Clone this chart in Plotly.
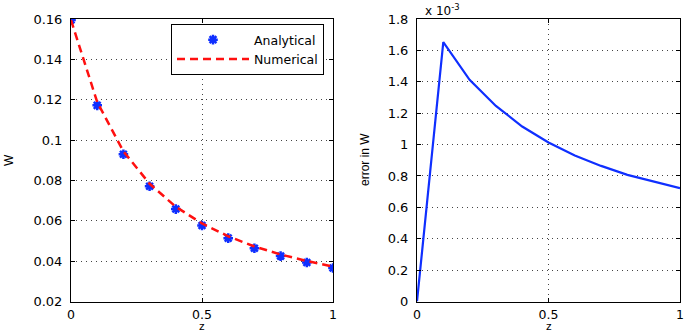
import plotly.graph_objects as go

# ---- data ----
z = [0.0, 0.1, 0.2, 0.3, 0.4, 0.5, 0.6, 0.7, 0.8, 0.9, 1.0]
analytical_W = [0.1595, 0.1172, 0.0930, 0.0771, 0.0658, 0.0577, 0.0514, 0.0464, 0.0425, 0.0393, 0.0366]
numerical_W = [0.1595, 0.11885, 0.09441, 0.07835, 0.06692, 0.05871, 0.05233, 0.04726, 0.04331, 0.04007, 0.03732]
error_W_e3 = [0.0, 1.652, 1.412, 1.246, 1.115, 1.013, 0.930, 0.864, 0.807, 0.765, 0.722]

left_yticks = [0.02, 0.04, 0.06, 0.08, 0.1, 0.12, 0.14, 0.16]
left_yticklabels = ["0.02", "0.04", "0.06", "0.08", "0.1", "0.12", "0.14", "0.16"]
right_yticks = [0, 0.2, 0.4, 0.6, 0.8, 1.0, 1.2, 1.4, 1.6, 1.8]
right_yticklabels = ["0", "0.2", "0.4", "0.6", "0.8", "1", "1.2", "1.4", "1.6", "1.8"]
xticks = [0, 0.5, 1]
xticklabels = ["0", "0.5", "1"]

W, H = 685, 332
BLUE = "#0f2fff"
RED = "#ff1010"
TICKFONT = dict(family="DejaVu Sans", size=13, color="black")
XTICKFONT = dict(family="DejaVu Sans", size=12.5, color="black")

fig = go.Figure()
fig.add_trace(go.Scatter(
    x=z, y=analytical_W, mode="markers", name="Analytical",
    marker=dict(symbol="asterisk-open", size=8, color=BLUE,
                line=dict(color=BLUE, width=2.5)),
    xaxis="x", yaxis="y"))
fig.add_trace(go.Scatter(
    x=z, y=numerical_W, mode="lines", name="Numerical",
    line=dict(color=RED, width=2.5, dash="8px,5px"),
    xaxis="x", yaxis="y"))
fig.add_trace(go.Scatter(
    x=z, y=error_W_e3, mode="lines", name="error", showlegend=False,
    line=dict(color=BLUE, width=2.2),
    xaxis="x2", yaxis="y2"))

def px_x(p):
    return p / W

def px_y(p):
    return 1 - p / H

ydom = [px_y(301.5), px_y(19)]
common = dict(showgrid=True, gridcolor="#444444", gridwidth=1, griddash="1px,4px",
              zeroline=False, showline=True, linecolor="black", linewidth=1,
              mirror="ticks", ticks="inside", ticklen=4, tickcolor="black",
              automargin=False)

fig.update_layout(
    width=W, height=H, autosize=False,
    margin=dict(l=0, r=0, t=0, b=0, autoexpand=False),
    paper_bgcolor="white", plot_bgcolor="white",
    xaxis=dict(domain=[px_x(71), px_x(333)], range=[0, 1], anchor="y",
               tickvals=xticks, ticktext=xticklabels, ticklabelstandoff=1,
               tickfont=XTICKFONT, **common),
    yaxis=dict(domain=ydom, range=[0.02, 0.16], anchor="x",
               tickvals=left_yticks, ticktext=left_yticklabels, ticklabelstandoff=5,
               tickfont=TICKFONT, **common),
    xaxis2=dict(domain=[px_x(417), px_x(680)], range=[0, 1], anchor="y2",
                tickvals=xticks, ticktext=xticklabels, ticklabelstandoff=1,
                tickfont=XTICKFONT, **common),
    yaxis2=dict(domain=ydom, range=[0, 1.8], anchor="x2",
                tickvals=right_yticks, ticktext=right_yticklabels, ticklabelstandoff=5,
                tickfont=TICKFONT, **common),
    legend=dict(x=px_x(324), y=px_y(24), xanchor="right", yanchor="top",
                bgcolor="white", bordercolor="black", borderwidth=1,
                font=dict(family="DejaVu Sans", size=12.5, color="black"),
                tracegroupgap=0, itemwidth=72),
    showlegend=True,
)

ann = [
    dict(text="W", x=px_x(9), y=px_y(160), textangle=-90, size=12),
    dict(text="z", x=px_x(202), y=px_y(326), textangle=0, size=11.5),
    dict(text="error in W", x=px_x(365), y=px_y(160), textangle=-90, size=12),
    dict(text="z", x=px_x(549), y=px_y(326), textangle=0, size=11.5),
]
for a in ann:
    fig.add_annotation(xref="paper", yref="paper", showarrow=False,
                       xanchor="center", yanchor="middle",
                       text=a["text"], x=a["x"], y=a["y"], textangle=a["textangle"],
                       font=dict(family="Liberation Sans", size=a["size"], color="black"))
fig.add_annotation(xref="paper", yref="paper", showarrow=False,
                   x=px_x(423), y=px_y(10), xanchor="left", yanchor="middle",
                   text="x 10<sup>-3</sup>",
                   font=dict(family="DejaVu Sans", size=12, color="black"))

fig.write_html("out.html", config={"displayModeBar": False},
               post_script="document.body.style.margin='0px';document.body.style.overflow='hidden';")
